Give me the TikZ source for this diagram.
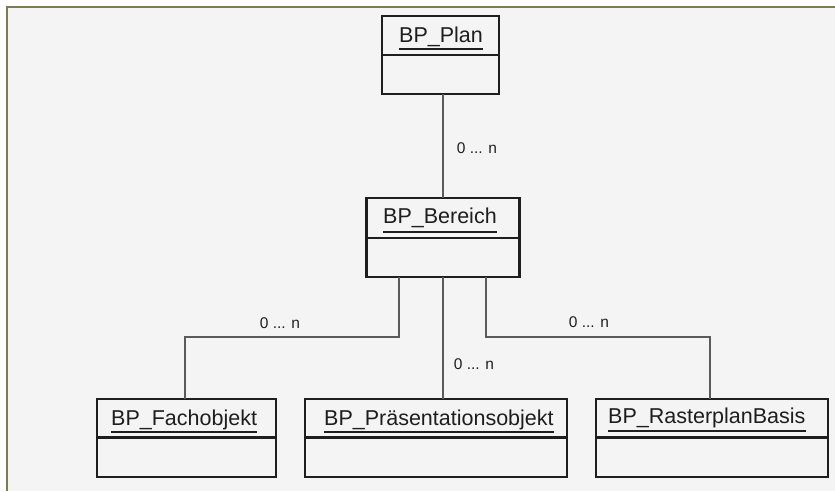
\documentclass[tikz,border=0pt]{standalone}
\usepackage{fontspec}
\setmainfont{Liberation Sans}
\begin{document}
\begin{tikzpicture}[x=1pt,y=-1pt,
  cls/.style={draw=boxc, line width=2.2pt, fill=bgc, inner sep=0pt, outer sep=0pt},
  divl/.style={draw=boxc, line width=2.2pt},
  conn/.style={draw=connc, line width=2pt},
  cname/.style={anchor=base west, inner sep=0pt, text=txtc, font=\fontsize{21.5}{24}\selectfont},
  mult/.style={inner sep=0pt, text=txtc, font=\fontsize{15.5}{18}\selectfont},
  uline/.style={draw=txtc, line width=1.8pt}
]
\definecolor{bgc}{HTML}{F4F4F4}
\definecolor{framec}{HTML}{7C7C50}
\definecolor{boxc}{HTML}{1E1E1E}
\definecolor{connc}{HTML}{5A5A5A}
\definecolor{txtc}{HTML}{1E1E1E}
\useasboundingbox (0,0) rectangle (835,491);
\fill[white] (0,0) rectangle (835,491);
\fill[bgc] (7,7) rectangle (835,491);
\draw[framec, line width=2pt] (7,491) -- (7,7) -- (835,7);

% boxes
\node[cls, minimum width=117pt, minimum height=78pt] (plan) at (440.5,55) {};
\node[cls, minimum width=153pt, minimum height=79pt] (bereich) at (443,237.5) {};
\node[cls, minimum width=179pt, minimum height=78pt] (fach) at (186.5,438) {};
\node[cls, minimum width=262pt, minimum height=78pt] (praes) at (436,438) {};
\node[cls, minimum width=232pt, minimum height=78pt] (raster) at (712,438) {};

% dividers
\draw[divl] (plan.west |- 0,55) -- (plan.east |- 0,55);
\draw[divl] (bereich.west |- 0,238) -- (bereich.east |- 0,238);
\draw[divl] (fach.west |- 0,437.5) -- (fach.east |- 0,437.5);
\draw[divl] (praes.west |- 0,437.5) -- (praes.east |- 0,437.5);
\draw[divl] (raster.west |- 0,437.5) -- (raster.east |- 0,437.5);

% class names
\node[cname] (tplan) at (399,42) {BP\_Plan};
\node[cname] (tbereich) at (383,223) {BP\_Bereich};
\node[cname] (tfach) at (111,425) {BP\_Fachobjekt};
\node[cname] (tpraes) at (324,425) {BP\_Präsentationsobjekt};
\node[cname] (traster) at (608,423) {BP\_RasterplanBasis};

\draw[uline] ([yshift=-7pt]tplan.base west) -- ([yshift=-7pt]tplan.base east);
\draw[uline] ([yshift=-9pt]tbereich.base west) -- ([yshift=-9pt]tbereich.base east);
\draw[uline] ([yshift=-7pt]tfach.base west) -- ([yshift=-7pt]tfach.base east);
\draw[uline] ([yshift=-7pt]tpraes.base west) -- ([yshift=-7pt]tpraes.base east);
\draw[uline] ([yshift=-8pt]traster.base west) -- ([yshift=-8pt]traster.base east);

% connectors
\draw[conn] (bereich.north) -- (bereich.north |- plan.south);
\draw[conn] ([xshift=-44pt]bereich.south) -- ++(0,60) -| ([xshift=-1.5pt]fach.north);
\draw[conn] (bereich.south) -- (bereich.south |- praes.north);
\draw[conn] ([xshift=43pt]bereich.south) -- ++(0,60) -| ([xshift=-2pt]raster.north);

% multiplicities
\node[mult] (m1) at (477,148) {0 ... n};
\node[mult] (m2) at (280,323) {0 ... n};
\node[mult] (m3) at (474,364) {0 ... n};
\node[mult] (m4) at (589,322) {0 ... n};
\end{tikzpicture}
\end{document}
